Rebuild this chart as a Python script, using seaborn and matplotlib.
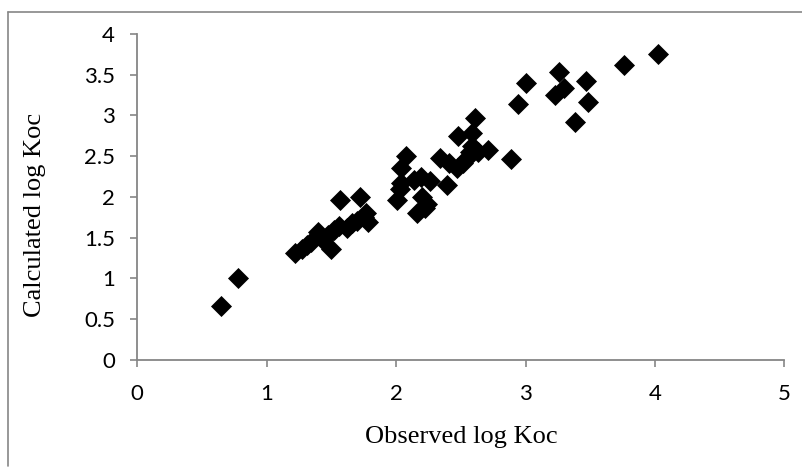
import numpy as np
import pandas as pd
import matplotlib
matplotlib.use("Agg")
import matplotlib.pyplot as plt
from matplotlib.lines import Line2D
import seaborn as sns

# values
observed = [0.65, 0.78, 1.22, 1.27, 1.31, 1.34, 1.40, 1.43, 1.47, 1.50,
            1.52, 1.57, 1.56, 1.62, 1.66, 1.70, 1.72, 1.75, 1.77, 1.78,
            2.01, 2.03, 2.04, 2.04, 2.08, 2.14, 2.16, 2.19, 2.20, 2.22,
            2.24, 2.26, 2.39, 2.34, 2.41, 2.48, 2.47, 2.52, 2.55, 2.57,
            2.59, 2.59, 2.61, 2.63, 2.71, 2.89, 2.94, 3.00, 3.23, 3.26,
            3.30, 3.38, 3.47, 3.48, 3.76, 4.02]
calculated = [0.66, 1.01, 1.31, 1.36, 1.41, 1.45, 1.57, 1.49, 1.53, 1.36,
              1.60, 1.96, 1.65, 1.62, 1.68, 1.70, 2.00, 1.75, 1.80, 1.69,
              1.96, 2.10, 2.17, 2.36, 2.50, 2.21, 1.80, 2.25, 2.00, 1.86,
              1.92, 2.19, 2.15, 2.48, 2.42, 2.75, 2.36, 2.42, 2.48, 2.55,
              2.62, 2.78, 2.97, 2.55, 2.58, 2.46, 3.14, 3.40, 3.25, 3.53,
              3.34, 2.92, 3.42, 3.16, 3.62, 3.75]
x_ticks = [0, 1, 2, 3, 4, 5]
y_ticks = [0, 0.5, 1, 1.5, 2, 2.5, 3, 3.5, 4]
y_tick_labels = ["0", "0.5", "1", "1.5", "2", "2.5", "3", "3.5", "4"]

df = pd.DataFrame({"Observed log Koc": observed, "Calculated log Koc": calculated})

sns.set_theme(style="white")
plt.rcParams["font.family"] = ["Lato", "DejaVu Sans"]

fig = plt.figure(figsize=(8.02, 4.68), dpi=100)
ax = fig.add_axes([0.1712, 0.2308, 0.8068, 0.6966])

sns.scatterplot(data=df, x="Observed log Koc", y="Calculated log Koc", ax=ax,
                marker="D", s=115, color="black", edgecolor="black", linewidth=0)

ax.set_xlim(0, 5)
ax.set_ylim(0, 4)
ax.set_xticks(x_ticks)
ax.set_yticks(y_ticks)
ax.set_yticklabels(y_tick_labels)

gray = "#868686"
for side in ["top", "right"]:
    ax.spines[side].set_visible(False)
for side in ["left", "bottom"]:
    ax.spines[side].set_color(gray)
    ax.spines[side].set_linewidth(1.3)
ax.tick_params(axis="both", direction="out", length=5, width=1.2, color=gray,
               labelsize=16, labelcolor="black", bottom=True, left=True)
ax.tick_params(axis="y", pad=11)
ax.tick_params(axis="x", pad=12)

serif = ["Liberation Serif", "DejaVu Serif"]
ax.set_xlabel("Observed log Koc", family=serif, fontsize=19, color="black", va="center")
ax.set_ylabel("Calculated log Koc", family=serif, fontsize=19, color="black", va="center")
ax.xaxis.set_label_coords(0.5, -0.235)
ax.yaxis.set_label_coords(-0.158, 0.446)

# outer chart frame (only top and left edges visible in the reference)
fig.add_artist(Line2D([8 / 802, 1.0], [1 - 12 / 468, 1 - 12 / 468],
                      transform=fig.transFigure, color=gray, linewidth=1.2))
fig.add_artist(Line2D([8 / 802, 8 / 802], [1 - 12 / 468, 0.005],
                      transform=fig.transFigure, color=gray, linewidth=1.2))

fig.savefig("out.png", dpi=100, facecolor="white")
